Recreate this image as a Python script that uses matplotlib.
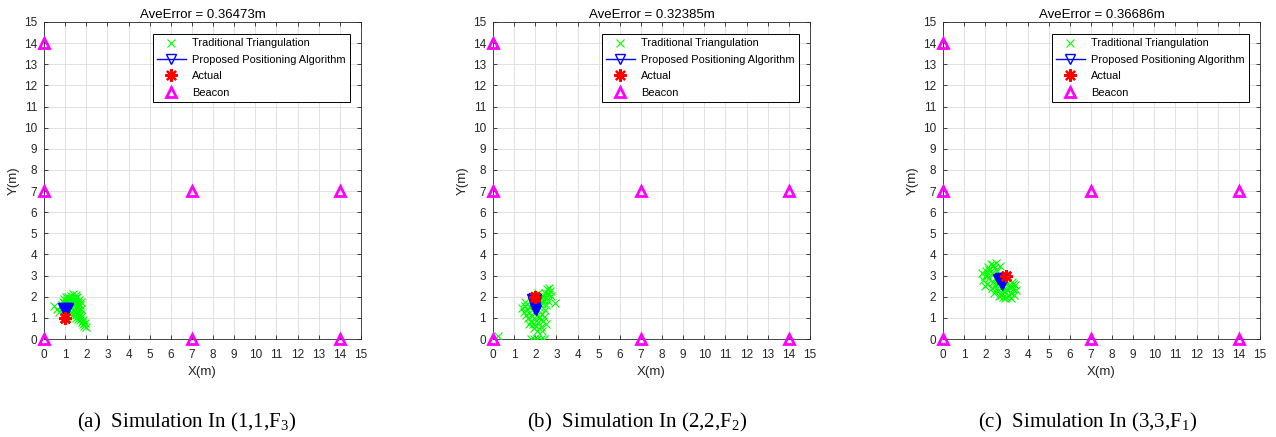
import matplotlib
matplotlib.use("Agg")
import matplotlib.pyplot as plt

plt.rcParams['font.family'] = ['Liberation Sans', 'DejaVu Sans']
plt.rcParams['mathtext.fontset'] = 'custom'
plt.rcParams['mathtext.rm'] = 'Liberation Serif'

titles = ["AveError = 0.36473m", "AveError = 0.32385m", "AveError = 0.36686m"]
captions = [r"(a)  Simulation In (1,1,F$_{\mathrm{3}}$)",
            r"(b)  Simulation In (2,2,F$_{\mathrm{2}}$)",
            r"(c)  Simulation In (3,3,F$_{\mathrm{1}}$)"]

beacon_x = [0, 0, 0, 7, 7, 14, 14]
beacon_y = [0, 7, 14, 0, 7, 0, 7]

actual_x = [1, 2, 3]
actual_y = [1, 2, 3]

trad1_x = [0.45, 0.6, 0.7, 0.85, 0.9, 0.95, 1.0, 1.05, 1.1, 1.15, 1.2, 1.25, 1.3, 1.35, 1.4, 1.45, 1.5, 1.55,
           1.6, 1.65, 1.7, 1.75, 1.3, 1.45, 1.55, 1.6, 1.7, 1.25, 1.15, 1.4, 1.5, 1.6, 1.7, 1.75, 1.8, 1.85,
           1.9, 1.95, 2.0, 1.85, 1.65, 1.35, 1.2, 1.0, 1.1, 1.3, 1.5, 1.6, 1.4, 1.25, 1.75, 1.55, 1.35, 1.05, 0.9]
trad1_y = [1.55, 1.4, 1.3, 1.6, 1.75, 1.9, 1.7, 1.55, 1.85, 2.0, 1.7, 1.9, 2.05, 1.8, 1.6, 1.95, 2.1, 1.75,
           1.5, 1.85, 1.6, 1.4, 1.45, 1.3, 1.2, 1.35, 1.2, 1.2, 1.3, 1.1, 1.0, 0.95, 0.9, 1.05, 0.8, 0.7,
           0.6, 0.75, 0.55, 0.9, 1.1, 1.65, 1.55, 1.45, 1.15, 1.3, 1.5, 1.7, 1.85, 1.6, 1.75, 2.0, 2.15, 2.0, 1.5]

trad2_x = [1.35, 1.45, 1.5, 1.55, 1.6, 1.65, 1.7, 1.75, 1.8, 1.85, 1.9, 1.95, 2.0, 2.05, 2.1, 2.15, 2.2, 2.25,
           2.3, 2.35, 2.4, 2.5, 2.45, 2.2, 2.3, 2.25, 2.35, 2.4, 2.45, 2.5, 2.55, 2.6, 2.65, 2.7, 2.75, 2.5,
           2.6, 2.15, 2.05, 1.9, 1.85, 2.1, 1.95, 2.3, 1.5, 2.95, 0.25, 1.8, 1.95, 2.1, 2.25, 2.4, 2.0, 2.2, 1.7]
trad2_y = [1.45, 1.3, 1.55, 1.15, 1.4, 1.0, 1.25, 1.5, 0.85, 1.1, 0.7, 1.3, 0.95, 0.6, 1.15, 0.8, 1.0, 0.55,
           1.2, 0.85, 1.05, 0.7, 1.35, 1.5, 1.7, 1.9, 2.05, 1.85, 2.2, 2.0, 2.35, 2.15, 2.4, 2.25, 2.05, 1.6,
           1.8, 2.2, 1.8, 1.6, 1.85, 0.4, 0.5, 0.4, 1.75, 1.7, 0.15, 0.0, 0.02, 0.0, 0.02, 0.0, 2.1, 1.7, 0.7]

trad3_x = [1.9, 2.0, 2.05, 2.1, 2.15, 2.2, 2.25, 2.3, 2.35, 2.4, 2.45, 2.5, 2.55, 2.6, 2.65, 2.7, 2.75, 2.8,
           2.85, 2.9, 2.95, 3.0, 3.05, 3.1, 3.15, 3.2, 3.25, 3.3, 3.35, 3.4, 3.45, 2.0, 1.85, 2.3, 2.4, 2.55,
           2.2, 2.35, 2.6, 2.7, 2.85, 3.0, 3.15, 2.45, 2.1, 3.3, 2.5, 2.95, 3.2, 2.65]
trad3_y = [2.8, 3.0, 3.2, 2.6, 3.4, 2.9, 3.55, 3.1, 2.7, 3.35, 2.5, 3.6, 3.2, 2.85, 2.3, 3.45, 2.1, 2.5,
           2.0, 2.25, 1.95, 2.6, 2.3, 2.05, 2.5, 2.2, 2.7, 2.35, 2.1, 2.55, 2.3, 2.5, 3.1, 2.4, 2.2, 2.6,
           3.25, 3.5, 3.0, 2.7, 2.3, 2.0, 2.4, 2.9, 3.05, 2.6, 2.35, 2.8, 1.95, 2.05]

prop1_x = [0.9, 0.95, 1.0, 1.05, 1.1, 1.15, 1.0, 1.08]
prop1_y = [1.45, 1.42, 1.44, 1.40, 1.43, 1.45, 1.38, 1.46]
prop2_x = [1.85, 1.95, 2.05, 1.9, 2.0, 1.95, 2.0, 1.98, 2.02, 1.95]
prop2_y = [1.9, 1.92, 1.88, 1.75, 1.7, 1.6, 1.5, 1.4, 1.35, 1.8]
prop3_x = [2.6, 2.7, 2.8, 2.9, 2.75, 2.85, 2.8, 2.78, 2.95]
prop3_y = [2.85, 2.88, 2.9, 2.85, 2.75, 2.7, 2.6, 2.55, 2.9]

trad_x = [trad1_x, trad2_x, trad3_x]
trad_y = [trad1_y, trad2_y, trad3_y]
prop_x = [prop1_x, prop2_x, prop3_x]
prop_y = [prop1_y, prop2_y, prop3_y]

ticks = list(range(0, 16))

W, H = 1276, 437
fig = plt.figure(figsize=(W / 100, H / 100), dpi=100)
lefts = [44, 493, 943]
caption_cx = [187, 637, 1088]
dark = (0.15, 0.15, 0.15)

for i in range(3):
    ax = fig.add_axes([lefts[i] / W, 1 - 339 / H, 317 / W, 317 / H])
    ax.plot(trad_x[i], trad_y[i], linestyle='none', marker='x', color=(0, 1, 0),
            markersize=5.5, markeredgewidth=0.8, label='Traditional Triangulation', zorder=3)
    ax.plot(prop_x[i], prop_y[i], linestyle='-', color='blue', marker='v', markersize=7,
            markerfacecolor='blue', markeredgewidth=1.0, linewidth=1.0,
            label='Proposed Positioning Algorithm', zorder=4)
    ax.plot([actual_x[i]] * 3, [actual_y[i]] * 3, linestyle='none', marker=(8, 2, 0), color='red',
            markersize=9, markeredgewidth=1.6, label='Actual', zorder=5)
    ax.plot(beacon_x, beacon_y, linestyle='none', marker='^', color=(1, 0, 1), markerfacecolor='none',
            markersize=6.5, markeredgewidth=2.0, label='Beacon', clip_on=False, zorder=6)

    ax.set_xlim(0, 15)
    ax.set_ylim(0, 15)
    ax.set_xticks(ticks)
    ax.set_yticks(ticks)
    ax.grid(True, color=(0.88, 0.88, 0.88), linewidth=0.7)
    ax.set_axisbelow(True)
    ax.tick_params(direction='in', top=True, right=True, length=3, width=0.6,
                   labelsize=8.5, colors=dark)
    ax.tick_params(axis='x', pad=7)
    ax.tick_params(axis='y', pad=5)
    for s in ax.spines.values():
        s.set_color(dark)
        s.set_linewidth(0.6)
    ax.set_title(titles[i], fontsize=9.5, color='black', pad=3)
    ax.set_xlabel('X(m)', fontsize=9.5, color=dark)
    ax.set_ylabel('Y(m)', fontsize=9.5, color=dark)
    ax.xaxis.set_label_coords(0.5, -0.085)
    ax.yaxis.set_label_coords(-0.076, 0.5)

    leg = ax.legend(loc='upper right', bbox_to_anchor=(0.966, 0.962), fontsize=7.9,
                    frameon=True, fancybox=False, edgecolor='black', framealpha=1,
                    handlelength=2.6, labelspacing=0.58, borderpad=0.4, handletextpad=0.6,
                    borderaxespad=0)
    leg.get_frame().set_linewidth(0.7)
    leg.legend_handles[1].set_markerfacecolor('none')
    leg.set_zorder(10)

    fig.text(caption_cx[i] / W, 1 - 422 / H, captions[i], ha='center', va='center',
             fontsize=15, family='Liberation Serif')

fig.savefig('out.png', dpi=100)
